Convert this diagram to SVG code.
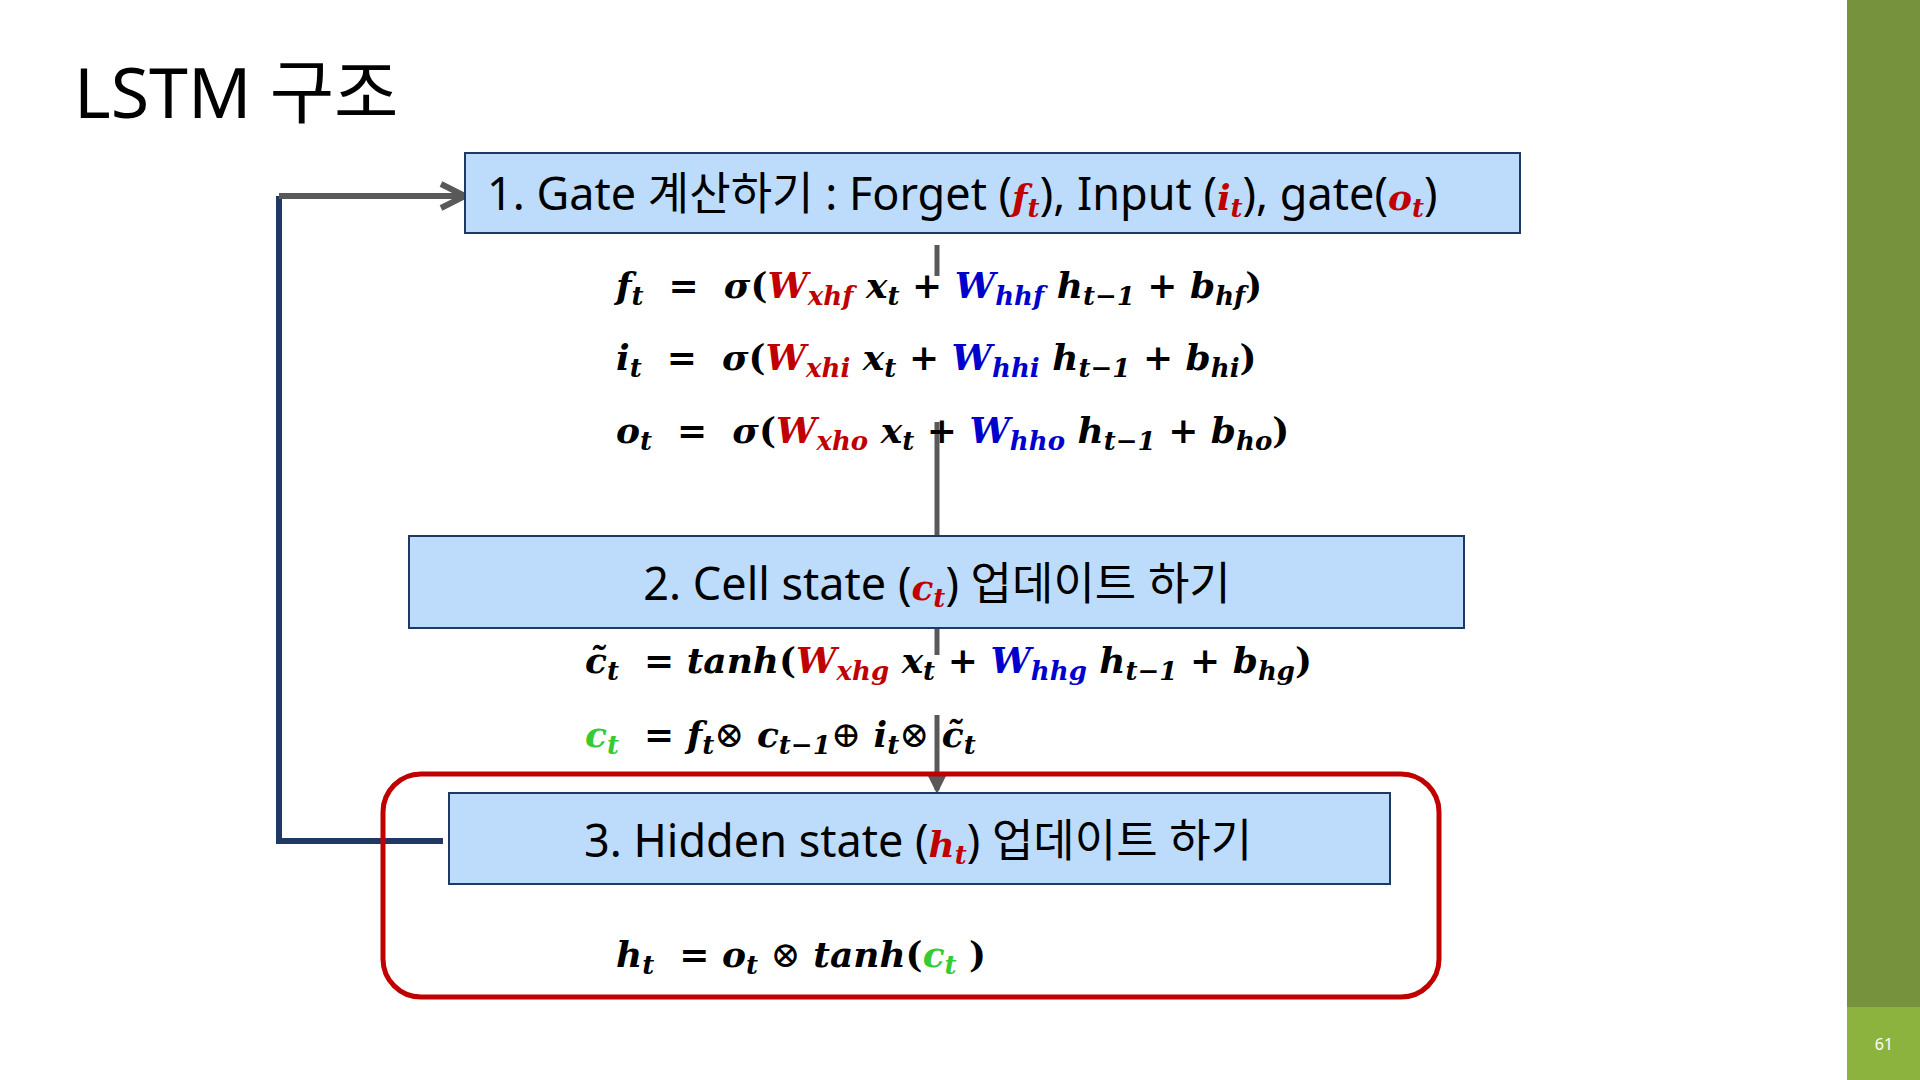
<svg xmlns="http://www.w3.org/2000/svg" width="1920" height="1080" viewBox="0 0 1920 1080">
<style>
.box{fill:#BDDCFB;stroke:#1F3864;stroke-width:2}
.lbl{font-family:"Noto Sans","Noto Sans CJK KR",sans-serif;font-size:45px;fill:#000}
.eq{font-family:"DejaVu Serif","Liberation Serif",serif;font-weight:bold;font-style:italic;font-size:36px;fill:#000}
.s{font-size:26px;baseline-shift:-28%}
.r{fill:#C00000}.b{fill:#0000CC}.g{fill:#33CC33}
.up{font-style:normal}
</style>
<defs>
<marker id="ah" viewBox="0 0 10 10" refX="8" refY="5" markerWidth="5" markerHeight="5" orient="auto"><path d="M1,1 L9,5 L1,9" fill="none" stroke="#595959" stroke-width="2"/></marker>
<marker id="ah2" viewBox="0 0 10 10" refX="8" refY="5" markerWidth="4" markerHeight="4" orient="auto"><path d="M0,0 L10,5 L0,10 z" fill="#595959"/></marker>
</defs>
<rect width="1920" height="1080" fill="#fff"/>
<rect x="1847" y="0" width="73" height="1007" fill="#76923C"/>
<rect x="1847" y="1007" width="73" height="73" fill="#8DB33F"/>
<text x="1884" y="1050" font-family="Noto Sans,sans-serif" font-size="16" fill="#fff" text-anchor="middle">61</text>
<text x="74" y="118" font-family="Noto Sans,'Noto Sans CJK KR',sans-serif" font-size="70" fill="#000">LSTM 구조</text>

<g id="connectors" fill="none">
<polyline points="443,841 279,841 279,196" stroke="#1F3864" stroke-width="6"/>
<polyline points="279,196 462,196" stroke="#595959" stroke-width="6" marker-end="url(#ah)"/>
<line x1="937" y1="245" x2="937" y2="276" stroke="#595959" stroke-width="5"/>
<line x1="937" y1="422" x2="937" y2="535" stroke="#595959" stroke-width="5"/>
<line x1="937" y1="628" x2="937" y2="655" stroke="#595959" stroke-width="5"/>
<line x1="937" y1="715" x2="937" y2="790" stroke="#595959" stroke-width="5" marker-end="url(#ah2)"/>
</g>

<g id="gate">
<rect class="box" x="465" y="153" width="1055" height="80"/>
<text class="lbl" x="487" y="210" xml:space="preserve">1. Gate 계산하기 : Forget (<tspan class="eq r" font-size="45px">f</tspan><tspan class="eq r s" font-size="32px">t</tspan>), Input (<tspan class="eq r" font-size="45px">i</tspan><tspan class="eq r s" font-size="32px">t</tspan>), gate(<tspan class="eq r" font-size="45px">o</tspan><tspan class="eq r s" font-size="32px">t</tspan>)</text>
</g>

<g id="gate-eqs">
<text class="eq" x="616" y="298" xml:space="preserve">f<tspan class="s">t</tspan>  <tspan class="up">=</tspan>  σ<tspan class="up">(</tspan><tspan class="r">W</tspan><tspan class="s r">xhf</tspan> x<tspan class="s">t</tspan> <tspan class="up">+</tspan> <tspan class="b">W</tspan><tspan class="s b">hhf</tspan> h<tspan class="s">t−1</tspan> <tspan class="up">+</tspan> b<tspan class="s">hf</tspan><tspan class="up">)</tspan></text>
<text class="eq" x="616" y="370" xml:space="preserve">i<tspan class="s">t</tspan>  <tspan class="up">=</tspan>  σ<tspan class="up">(</tspan><tspan class="r">W</tspan><tspan class="s r">xhi</tspan> x<tspan class="s">t</tspan> <tspan class="up">+</tspan> <tspan class="b">W</tspan><tspan class="s b">hhi</tspan> h<tspan class="s">t−1</tspan> <tspan class="up">+</tspan> b<tspan class="s">hi</tspan><tspan class="up">)</tspan></text>
<text class="eq" x="616" y="443" xml:space="preserve">o<tspan class="s">t</tspan>  <tspan class="up">=</tspan>  σ<tspan class="up">(</tspan><tspan class="r">W</tspan><tspan class="s r">xho</tspan> x<tspan class="s">t</tspan> <tspan class="up">+</tspan> <tspan class="b">W</tspan><tspan class="s b">hho</tspan> h<tspan class="s">t−1</tspan> <tspan class="up">+</tspan> b<tspan class="s">ho</tspan><tspan class="up">)</tspan></text>
</g>

<g id="cell">
<rect class="box" x="409" y="536" width="1055" height="92"/>
<text class="lbl" x="937" y="600" text-anchor="middle" xml:space="preserve">2. Cell state (<tspan class="eq r" font-size="45px">c</tspan><tspan class="eq r s" font-size="32px">t</tspan>) 업데이트 하기</text>
</g>

<g id="cell-eqs">
<text class="eq" x="585" y="673" xml:space="preserve">c̃<tspan class="s">t</tspan>  <tspan class="up">=</tspan> tanh<tspan class="up">(</tspan><tspan class="r">W</tspan><tspan class="s r">xhg</tspan> x<tspan class="s">t</tspan> <tspan class="up">+</tspan> <tspan class="b">W</tspan><tspan class="s b">hhg</tspan> h<tspan class="s">t−1</tspan> <tspan class="up">+</tspan> b<tspan class="s">hg</tspan><tspan class="up">)</tspan></text>
<text class="eq" x="585" y="747" xml:space="preserve"><tspan class="g">c</tspan><tspan class="s g">t</tspan>  <tspan class="up">=</tspan> f<tspan class="s">t</tspan><tspan class="up" font-weight="normal">⊗</tspan> c<tspan class="s">t−1</tspan><tspan class="up" font-weight="normal">⊕</tspan> i<tspan class="s">t</tspan><tspan class="up" font-weight="normal">⊗</tspan> c̃<tspan class="s">t</tspan></text>
</g>

<g id="hidden">
<rect x="383" y="774" width="1056" height="223" rx="38" fill="none" stroke="#C00000" stroke-width="5"/>
<rect class="box" x="449" y="793" width="941" height="91"/>
<text class="lbl" x="918" y="857" text-anchor="middle" xml:space="preserve">3. Hidden state (<tspan class="eq r" font-size="45px">h</tspan><tspan class="eq r s" font-size="32px">t</tspan>) 업데이트 하기</text>
<text class="eq" x="616" y="967" xml:space="preserve">h<tspan class="s">t</tspan>  <tspan class="up">=</tspan> o<tspan class="s">t</tspan> <tspan class="up" font-weight="normal">⊗</tspan> tanh<tspan class="up">(</tspan><tspan class="g">c</tspan><tspan class="s g">t</tspan> <tspan class="up">)</tspan></text>
</g>
</svg>
